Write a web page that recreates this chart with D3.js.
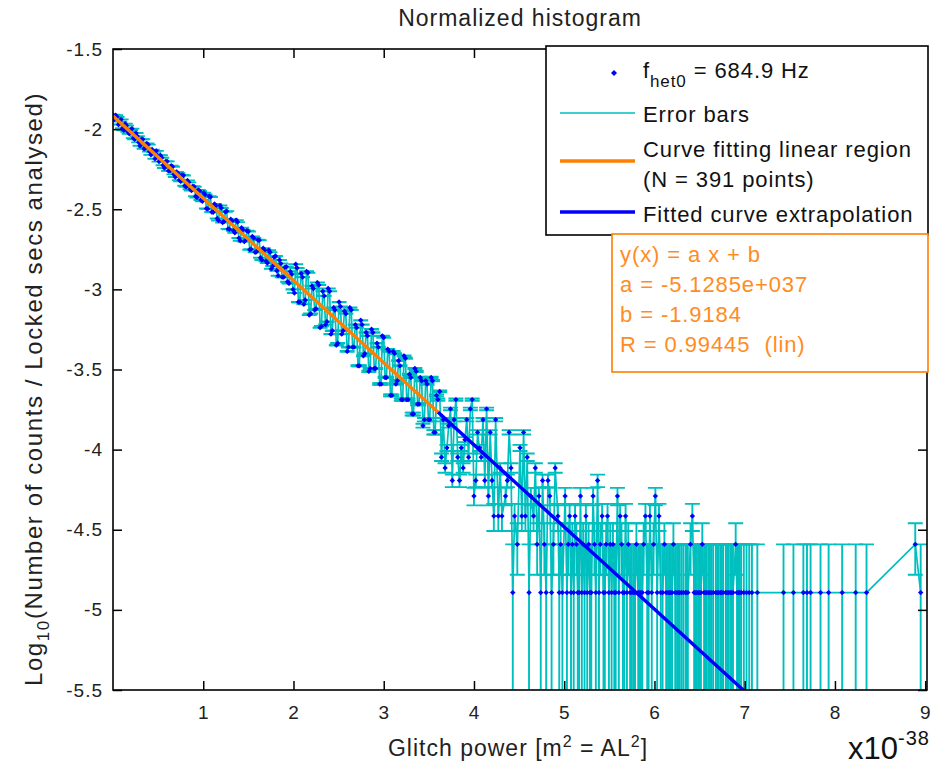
<!DOCTYPE html>
<html>
<head>
<meta charset="utf-8">
<script src="https://cdn.jsdelivr.net/npm/d3@7"></script>
<style>
body { margin: 0; background: #fff; }
text { font-family: "Liberation Sans", Arial, sans-serif; }
</style>
</head>
<body>
<div id="chart"></div>
<script>
// glitch power in units of 1e-38 m^2, one entry per non-empty histogram bin
const glitchPower = [
  0.000,0.015,0.030,0.045,0.060,0.075,0.090,0.105,0.120,0.135,0.150,0.165,0.180,0.195,0.210,0.225,0.240,0.255,0.270,0.285,
  0.300,0.315,0.330,0.345,0.360,0.375,0.390,0.405,0.420,0.435,0.450,0.465,0.480,0.495,0.510,0.525,0.540,0.555,0.570,0.585,
  0.600,0.615,0.630,0.645,0.660,0.675,0.690,0.705,0.720,0.735,0.750,0.765,0.780,0.795,0.810,0.825,0.840,0.855,0.870,0.885,
  0.900,0.915,0.930,0.945,0.960,0.975,0.990,1.005,1.020,1.035,1.050,1.065,1.080,1.095,1.110,1.125,1.140,1.155,1.170,1.185,
  1.200,1.215,1.230,1.245,1.260,1.275,1.290,1.305,1.320,1.335,1.350,1.365,1.380,1.395,1.410,1.425,1.440,1.455,1.470,1.485,
  1.500,1.515,1.530,1.545,1.560,1.575,1.590,1.605,1.620,1.635,1.650,1.665,1.680,1.695,1.710,1.725,1.740,1.755,1.770,1.785,
  1.800,1.815,1.830,1.845,1.860,1.875,1.890,1.905,1.920,1.935,1.950,1.965,1.980,1.995,2.010,2.025,2.040,2.055,2.070,2.085,
  2.100,2.115,2.130,2.145,2.160,2.175,2.190,2.205,2.220,2.235,2.250,2.265,2.280,2.295,2.310,2.325,2.340,2.355,2.370,2.385,
  2.400,2.415,2.430,2.445,2.460,2.475,2.490,2.505,2.520,2.535,2.550,2.565,2.580,2.595,2.610,2.625,2.640,2.655,2.670,2.685,
  2.700,2.715,2.730,2.745,2.760,2.775,2.790,2.805,2.820,2.835,2.850,2.865,2.880,2.895,2.910,2.925,2.940,2.955,2.970,2.985,
  3.000,3.015,3.030,3.045,3.060,3.075,3.090,3.105,3.120,3.135,3.150,3.165,3.180,3.195,3.210,3.225,3.240,3.255,3.270,3.285,
  3.300,3.315,3.330,3.345,3.360,3.375,3.390,3.405,3.420,3.435,3.450,3.465,3.480,3.495,3.510,3.525,3.540,3.555,3.570,3.585,
  3.600,3.62,3.64,3.66,3.68,3.70,3.72,3.74,3.76,3.78,3.80,3.82,3.84,3.86,3.88,3.90,3.92,3.94,3.96,3.98,
  4.00,4.02,4.04,4.06,4.08,4.10,4.12,4.14,4.16,4.18,4.20,4.22,4.24,4.27,4.29,4.31,4.35,4.37,4.39,4.41,
  4.43,4.45,4.48,4.51,4.53,4.55,4.57,4.59,4.61,4.63,4.66,4.68,4.70,4.72,4.74,4.76,4.78,4.80,4.82,4.84,
  4.86,4.88,4.90,4.93,4.96,4.98,5.01,5.03,5.06,5.09,5.12,5.15,5.18,5.21,5.24,5.27,5.30,5.32,5.35,5.37,
  5.40,5.42,5.45,5.48,5.51,5.54,5.57,5.59,5.62,5.65,5.68,5.71,5.73,5.75,5.77,5.80,5.82,5.85,5.88,5.90,
  5.92,5.95,5.97,5.99,6.01,6.03,6.05,6.07,6.09,6.11,6.13,6.15,6.18,6.21,6.23,6.25,6.28,6.30,6.32,6.35,
  6.37,6.40,6.42,6.44,6.47,6.50,6.53,6.55,6.58,6.60,6.63,6.65,6.68,6.71,6.73,6.76,6.79,6.82,6.84,6.87,
  6.90,6.93,6.96,6.99,7.02,7.05,7.08,7.14,7.43,7.54,7.65,7.69,7.73,7.84,7.93,8.08,8.23,8.35,8.89,8.95
];
// glitch counts in each bin
const counts = [
  960,897,953,928,833,870,897,789,768,842,820,751,730,770,786,685,673,738,705,645,
  614,675,675,588,597,634,624,566,539,580,564,510,571,535,489,536,517,464,446,491,
  491,428,429,461,454,407,392,421,414,375,369,404,401,346,340,373,363,329,323,344,
  341,297,292,326,321,282,277,313,305,249,248,297,294,237,236,266,260,216,210,260,
  251,204,207,238,240,186,185,214,208,181,176,211,205,163,157,189,184,155,158,181,
  179,138,139,167,163,133,134,159,158,123,119,141,137,117,114,137,133,105,109,124,
  126,102,95,119,113,93,93,107,108,87,85,101,97,78,74,112,106,65,65,98,
  93,63,67,101,99,54,55,82,79,58,59,86,83,45,46,76,71,47,49,79,
  76,41,43,60,58,35,36,65,61,41,43,57,55,32,34,60,58,34,34,47,
  45,26,26,50,47,30,31,42,40,24,25,44,42,25,25,36,34,20,20,40,
  39,22,22,33,32,17,17,32,31,20,21,28,26,16,16,30,29,16,16,23,
  22,13,13,25,24,15,15,22,21,11,12,21,20,12,12,22,21,10,10,17,
  16,18,7,12,6,8,11,14,5,12,16,7,5,8,6,9,12,7,14,16,
  4,5,10,8,7,12,5,14,4,10,5,3,12,3,6,3,4,5,10,6,
  1,3,2,8,3,10,3,7,1,4,3,6,2,4,1,5,2,1,5,4,
  1,2,6,3,2,1,4,1,3,2,3,1,4,2,3,2,1,4,1,5,
  2,3,1,3,2,2,1,4,3,1,3,2,1,1,1,2,1,1,2,3,
  1,3,1,2,4,1,3,1,1,2,1,1,1,2,1,1,1,1,1,1,
  1,2,3,1,1,1,2,1,1,1,1,1,1,1,1,1,1,1,1,1,
  2,1,1,1,1,1,1,1,1,1,1,1,1,1,1,1,1,1,2,1
];
// further low-count bins read in the crowded 4.9 - 7.0 stretch
const sparsePower = [
  4.945,5.045,5.075,5.105,5.135,5.165,5.195,5.225,5.255,5.285,5.335,5.385,5.435,5.465,5.495,5.525,5.555,5.605,5.635,5.665,
  5.695,5.785,5.835,5.865,5.935,6.165,6.195,6.265,6.345,6.455,6.485,6.515,6.565,6.615,6.695,6.745,6.805,6.855,6.915,6.945
];
const sparseCounts = [
  1,2,1,1,2,1,1,1,1,1,2,1,1,2,1,1,1,1,2,1,
  1,1,1,1,1,1,1,1,1,1,1,1,1,1,1,1,1,1,1,1
];
const lockedSecs = 78000;

const xTickValues = [1, 2, 3, 4, 5, 6, 7, 8, 9];
const yTickValues = [-5.5, -5, -4.5, -4, -3.5, -3, -2.5, -2, -1.5];

// linear fit y = a x + b (a given per 1e-38 m^2)
const fitA = -0.51285;
const fitB = -1.9184;
const fitRegion = [0, 3.6];
const extrapRegion = [3.6, 7.0];

const legendLabels = ["Error bars", "Curve fitting linear region", "(N = 391 points)", "Fitted curve extrapolation"];
const fitBoxLines = ["y(x) = a x + b", "a = -5.1285e+037", "b = -1.9184", "R = 0.99445  (lin)"];

const W = 940, H = 767;
const cyan = "#00bfbf", blue = "#0000ff", orange = "#ff7f00", orangeText = "#ff8c1e";

const svg = d3.select("#chart").append("svg").attr("width", W).attr("height", H);

const x = d3.scaleLinear().domain([0, 9.02]).range([113, 927]);
const y = d3.scaleLinear().domain([-5.5, -1.5]).range([690, 49]);

svg.append("defs").append("clipPath").attr("id", "plotclip")
  .append("rect").attr("x", 113).attr("y", 49).attr("width", 814).attr("height", 641);

const toPoint = (g, c) => ({ x: g, c: c, y: Math.log10(c / lockedSecs) });
const pts = glitchPower.map((g, i) => toPoint(g, counts[i]))
  .concat(sparsePower.map((g, i) => toPoint(g, sparseCounts[i])))
  .filter(d => d.c > 0)
  .sort((a, b) => a.x - b.x);

const plot = svg.append("g").attr("clip-path", "url(#plotclip)");
const cap = 7.5;

// error bars (half-width 1/sqrt(N) in counts)
plot.append("g").selectAll("path").data(pts).join("path")
  .attr("fill", "none").attr("stroke", cyan).attr("stroke-width", 1.9)
  .attr("d", d => {
    const e = 1 / Math.sqrt(d.c);
    const px = x(d.x);
    const hi = y(Math.log10((d.c + e) / lockedSecs));
    const lowOk = d.c - e > 0;
    const lo = lowOk ? y(Math.log10((d.c - e) / lockedSecs)) : 700;
    let s = `M${px},${lo}V${hi}M${px - cap},${hi}H${px + cap}`;
    if (lowOk) s += `M${px - cap},${lo}H${px + cap}`;
    return s;
  });

// connecting line
plot.append("path").datum(pts)
  .attr("fill", "none").attr("stroke", cyan).attr("stroke-width", 1.7)
  .attr("d", d3.line().x(d => x(d.x)).y(d => y(d.y)));

// markers
const diamond = "M0,-2.7L2.7,0L0,2.7L-2.7,0Z";
plot.append("g").selectAll("path").data(pts).join("path")
  .attr("d", diamond).attr("fill", blue)
  .attr("transform", d => `translate(${x(d.x)},${y(d.y)})`);

// fit lines
const fitLine = d3.line().x(d => x(d)).y(d => y(fitA * d + fitB));
plot.append("path").datum(extrapRegion).attr("d", fitLine)
  .attr("stroke", blue).attr("stroke-width", 3.4).attr("fill", "none");
plot.append("path").datum(fitRegion).attr("d", fitLine)
  .attr("stroke", orange).attr("stroke-width", 3.4).attr("fill", "none");

// axes
const tickFont = 19;
const fmt = d => String(d);
svg.append("g").attr("transform", "translate(0,690)")
  .call(d3.axisBottom(x).tickValues(xTickValues).tickSize(-9).tickSizeOuter(0).tickPadding(16).tickFormat(fmt));
svg.append("g").attr("transform", "translate(113,0)")
  .call(d3.axisLeft(y).tickValues(yTickValues).tickSize(-9).tickSizeOuter(0).tickPadding(10).tickFormat(fmt));
svg.append("g").attr("transform", "translate(0,49)")
  .call(d3.axisTop(x).tickValues(xTickValues).tickSize(-9).tickSizeOuter(0).tickFormat(""));
svg.append("g").attr("transform", "translate(927,0)")
  .call(d3.axisRight(y).tickValues(yTickValues).tickSize(-9).tickSizeOuter(0).tickFormat(""));
svg.selectAll(".domain").remove();
svg.selectAll(".tick line").attr("stroke", "#000").attr("stroke-width", 1.5);
svg.selectAll(".tick text").attr("fill", "#222").style("font-size", tickFont + "px")
  .style("font-family", "'Liberation Sans', Arial, sans-serif").style("letter-spacing", "1px");

svg.append("rect").attr("x", 113).attr("y", 49).attr("width", 814).attr("height", 641)
  .attr("fill", "none").attr("stroke", "#000").attr("stroke-width", 1.6);

// title and labels
svg.append("text").attr("x", 520).attr("y", 26).attr("text-anchor", "middle")
  .style("font-size", "23px").style("letter-spacing", "1px").attr("fill", "#222")
  .text("Normalized histogram");

const xl = svg.append("text").attr("x", 518).attr("y", 756).attr("text-anchor", "middle")
  .style("font-size", "23px").style("letter-spacing", "1px").attr("fill", "#222");
xl.append("tspan").text("Glitch power [m");
xl.append("tspan").attr("dy", -9).style("font-size", "16px").text("2");
xl.append("tspan").attr("dy", 9).text(" = AL");
xl.append("tspan").attr("dy", -9).style("font-size", "16px").text("2");
xl.append("tspan").attr("dy", 9).text("]");

const yl = svg.append("text").attr("transform", "translate(42,389) rotate(-90)")
  .attr("text-anchor", "middle")
  .style("font-size", "24px").style("letter-spacing", "1.6px").attr("fill", "#222");
yl.append("tspan").text("Log");
yl.append("tspan").attr("dy", 7).style("font-size", "17px").text("10");
yl.append("tspan").attr("dy", -7).text("(Number of counts / Locked secs analysed)");

const ex = svg.append("text").attr("x", 848).attr("y", 759).attr("fill", "#111")
  .style("font-size", "31px");
ex.append("tspan").text("x10");
ex.append("tspan").attr("dy", -14).style("font-size", "20px").style("letter-spacing", "1px").text("-38");

// legend
const lg = svg.append("g");
lg.append("rect").attr("x", 546).attr("y", 46).attr("width", 382).attr("height", 189)
  .attr("fill", "#fff").attr("stroke", "#000").attr("stroke-width", 1.6);
lg.append("path").attr("d", "M0,-3L3,0L0,3L-3,0Z").attr("fill", blue).attr("transform", "translate(614,73)");
const lt = lg.append("text").attr("x", 643).attr("y", 78)
  .style("font-size", "22px").style("letter-spacing", "0.9px").attr("fill", "#111");
lt.append("tspan").text("f");
lt.append("tspan").attr("dy", 9).style("font-size", "17px").text("het0");
lt.append("tspan").attr("dy", -9).text(" = 684.9 Hz");

lg.append("line").attr("x1", 560).attr("x2", 635).attr("y1", 113).attr("y2", 113)
  .attr("stroke", cyan).attr("stroke-width", 1.7);
lg.append("line").attr("x1", 560).attr("x2", 635).attr("y1", 161).attr("y2", 161)
  .attr("stroke", orange).attr("stroke-width", 3.4);
lg.append("line").attr("x1", 560).attr("x2", 635).attr("y1", 212).attr("y2", 212)
  .attr("stroke", blue).attr("stroke-width", 3.4);
const legendBaselines = [122, 157, 187, 222];
legendLabels.forEach((t, i) => {
  lg.append("text").attr("x", 643).attr("y", legendBaselines[i])
    .style("font-size", "22px").style("letter-spacing", "0.9px").attr("fill", "#111").text(t);
});

// fit result box
const fb = svg.append("g");
fb.append("rect").attr("x", 612).attr("y", 234).attr("width", 316).attr("height", 138)
  .attr("fill", "#fff").attr("stroke", orange).attr("stroke-width", 1.6);
fitBoxLines.forEach((t, i) => {
  fb.append("text").attr("x", 620).attr("y", 262 + i * 30)
    .style("white-space", "pre")
    .style("font-size", "22px").style("letter-spacing", "0.9px").attr("fill", orangeText).text(t);
});
</script>
</body>
</html>
